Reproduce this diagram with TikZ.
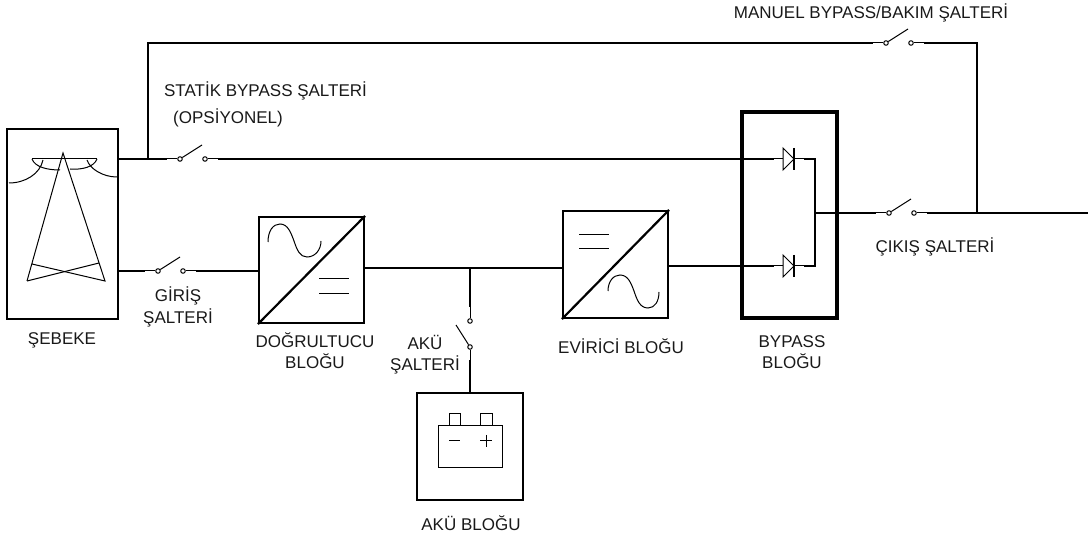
\documentclass[tikz,border=0pt]{standalone}
\usepackage{fontspec}
\setmainfont{Liberation Sans}
\tikzset{
  blockbox/.style={draw, line width=2.2pt, inner sep=0pt},
  wire/.style={line width=2.2pt},
  lead/.style={line width=1pt},
  fine/.style={line width=1pt},
  contact/.style={draw, circle, fill=white, line width=1pt, inner sep=0pt, minimum size=4.5pt},
  caption/.style={align=center, inner sep=0pt, font=\fontsize{17}{21.5}\selectfont, text=black!90}
}
\begin{document}
\begin{tikzpicture}[x=1pt, y=-1pt]
\useasboundingbox (0,0) rectangle (1088,537);

% blocks
\node[blockbox, minimum width=111pt, minimum height=190pt] (sebeke) at (62.5,224) {};
\node[blockbox, minimum width=105pt, minimum height=106pt] (rect) at (311.5,270) {};
\node[blockbox, minimum width=105pt, minimum height=107pt] (inv) at (615.5,264.5) {};
\node[blockbox, line width=3.5pt, minimum width=95pt, minimum height=206pt] (bypass) at (789.5,215) {};
\node[blockbox, minimum width=106pt, minimum height=107pt] (batt) at (470,446.5) {};

% horizontal switches
\foreach \nm/\x/\y in {st/180/159, gi/158/271, ma/886/43, ci/889/213} {
  \node[contact] (\nm L) at (\x,\y) {};
  \node[contact] (\nm R) at (\x+25,\y) {};
  \coordinate (\nm B) at (\x+22,\y-14);
  \coordinate (\nm P) at (\x-13,\y);
  \coordinate (\nm Q) at (\x+38,\y);
  \draw[lead] (\nm P) -- (\nm L);
  \draw[lead] (\nm R) -- (\nm Q);
  \draw[lead] (\nm L) -- (\nm B);
}

% battery switch
\node[contact] (akuT) at (470,321) {};
\node[contact] (akuA) at (470,347) {};
\coordinate (akuB) at (456,325);
\coordinate (akuP) at (470,307);
\coordinate (akuQ) at (470,360);
\draw[lead] (akuP) -- (akuT);
\draw[lead] (akuA) -- (akuQ);
\draw[lead] (akuA) -- (akuB);

% diodes
\foreach \nm/\y in {da/159, db/266} {
  \coordinate (\nm A) at (783,\y);
  \coordinate (\nm C) at (794,\y);
  \coordinate (\nm P) at (774,\y);
  \coordinate (\nm Q) at (804,\y);
  \draw[lead] (\nm A) ++(0,-11) -- ++(0,22) -- (\nm C) -- cycle;
  \draw[line width=1.5pt] (\nm C) ++(0,-11) -- ++(0,22);
  \draw[lead] (\nm P) -- (\nm A);
  \draw[lead] (\nm C) -- (\nm Q);
}

% wires
\coordinate (tapS) at (148,159);
\coordinate (busA) at (470,268);
\coordinate (joinD) at (815,213);
\coordinate (joinO) at (977,213);
\coordinate (outE) at (1088,213);
\draw[wire] (sebeke.east |- stL) -- (stP);
\draw[wire] (stQ) -- (daP);
\draw[wire] (tapS) |- (maP);
\draw[wire, line width=1.8pt] (maQ) -| (joinO);
\draw[wire] (sebeke.east |- giL) -- (giP);
\draw[wire] (giQ) -- (rect.west |- giL);
\draw[wire] (rect.east |- busA) -- (inv.west |- busA);
\draw[wire] (busA) -- (akuP);
\draw[wire] (akuQ) -- (batt.north);
\draw[wire] (inv.east |- dbP) -- (dbP);
\draw[wire] (daQ) -| (joinD);
\draw[wire] (dbQ) -| (joinD);
\draw[wire] (joinD) -- (ciP);
\draw[wire] (ciQ) -- (outE);

% converter symbols
\draw[wire] (rect.south west) -- (rect.north east);
\draw[wire] (inv.south west) -- (inv.north east);
\draw[fine] (268,242) .. controls (268,231) and (273,224) .. (280,224) .. controls (288,224) and (291,233) .. (294,241) .. controls (297,250) and (300,257) .. (307,257) .. controls (315,257) and (321,250) .. (321,241);
\draw[fine] (319,279) -- (349,279);
\draw[fine] (319,294) -- (349,294);
\draw[fine] (608,291) .. controls (608,282) and (613,275) .. (620,275) .. controls (628,275) and (631,283) .. (634,291) .. controls (637,300) and (640,308) .. (648,308) .. controls (655,308) and (659,301) .. (659,292);
\draw[fine] (579,235) -- (609,235);
\draw[fine] (579,249) -- (609,249);

% pylon
\draw[fine] (32,159) -- (97,159);
\draw[fine] (27,281) -- (63,153) -- (105,281) -- (32,264);
\draw[fine] (27,281) -- (99,263);
\draw[fine] (32,159) .. controls (35,167) and (47,170) .. (60,170);
\draw[fine] (97,159) .. controls (94,167) and (82,170) .. (70,169);
\draw[fine] (43,160) .. controls (40,174) and (25,183) .. (9,183);
\draw[fine] (87,160) .. controls (90,169) and (103,177) .. (117,177);

% battery
\draw[fine] (438,426) rectangle (502,468);
\draw[fine] (449,426) -- (449,414) -- (460,414) -- (460,426);
\draw[fine] (480,426) -- (480,414) -- (492,414) -- (492,426);
\draw[fine] (449,441) -- (460,441);
\draw[fine] (480,441) -- (492,441);
\draw[fine] (486,435) -- (486,447);

% labels
\node[caption] (lmanuel) at (871,12.5) {MANUEL BYPASS/BAKIM ŞALTERİ};
\node[caption] (lstatik) at (265.5,91) {STATİK BYPASS ŞALTERİ};
\node[caption] (lopsiyon) at (228,118) {(OPSİYONEL)};
\node[caption] (lgiris) at (178,307) {GİRİŞ\\ŞALTERİ};
\node[caption] (lsebeke) at (62,340) {ŞEBEKE};
\node[caption] (lrect) at (315,350.5) {DOĞRULTUCU\\BLOĞU};
\node[caption] (lakusw) at (425,354.5) {AKÜ\\ŞALTERİ};
\node[caption] (linv) at (621,346) {EVİRİCİ BLOĞU};
\node[caption] (lbypass) at (792,352) {BYPASS\\BLOĞU};
\node[caption] (lcikis) at (935,247) {ÇIKIŞ ŞALTERİ};
\node[caption] (lbatt) at (471,523) {AKÜ BLOĞU};
\end{tikzpicture}
\end{document}
